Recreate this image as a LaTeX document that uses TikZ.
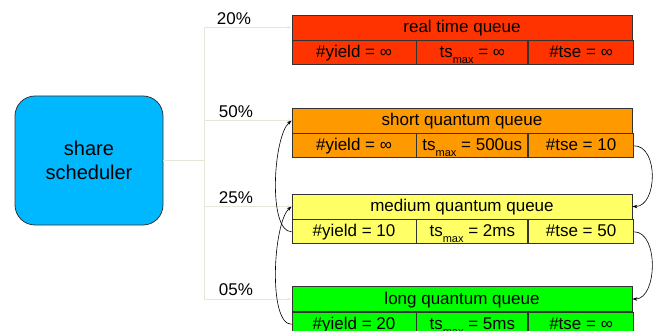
\documentclass[tikz,border=0pt]{standalone}
\usepackage{fontspec}
\setmainfont{Liberation Sans}
\usetikzlibrary{positioning, arrows.meta}
\definecolor{schedblue}{RGB}{0,184,255}
\definecolor{rtred}{RGB}{255,51,0}
\definecolor{sqorange}{RGB}{255,153,0}
\definecolor{mqyellow}{RGB}{255,255,102}
\definecolor{lqgreen}{RGB}{0,255,0}
\definecolor{linkgray}{RGB}{232,230,216}
\newcommand{\tsmax}{ts\raisebox{-6pt}{\fontsize{11}{11}\selectfont max}}

\begin{document}
\begin{tikzpicture}[x=1pt, y=-1pt, font=\fontsize{17}{20}\selectfont,
  qtitle/.style={draw=black!80, line width=0.8pt, minimum width=340pt, minimum height=25pt, inner sep=0pt,
                 text height=12pt, text depth=2pt},
  qcell/.style={draw=black!80, line width=0.8pt, minimum height=24pt, inner sep=0pt,
                text height=12pt, text depth=2pt},
  cellA/.style={qcell, minimum width=124pt},
  cellB/.style={qcell, minimum width=111pt},
  cellC/.style={qcell, minimum width=105pt},
  link/.style={draw=linkgray, line width=0.8pt, -{Latex[length=4pt, width=3pt]}},
  demote/.style={->, >={Stealth[length=5pt, width=3.5pt]}, line width=0.6pt},
  pct/.style={inner sep=0pt}]
   \useasboundingbox (0,0) rectangle (655,331);

   % scheduler
   \node[draw=black!80, line width=0.8pt, fill=schedblue, rounded corners=20pt,
         minimum width=148pt, minimum height=129pt, align=center,
         font=\fontsize{20}{24}\selectfont] (sched) at (89,160.5) {share\\scheduler};
   \coordinate (split) at (204,160.5);

   % queues
   \node[qtitle, fill=rtred] (rt) at (462,27.5) {real time queue};
   \node[cellA, fill=rtred, below right=0pt and 0pt of rt.south west] (rt1) {\#yield = ∞};
   \node[cellB, fill=rtred, right=0pt of rt1] (rt2) {\tsmax{} = ∞};
   \node[cellC, fill=rtred, right=0pt of rt2] (rt3) {\#tse = ∞};

   \node[qtitle, fill=sqorange] (sq) at (462,120.5) {short quantum queue};
   \node[cellA, fill=sqorange, below right=0pt and 0pt of sq.south west] (sq1) {\#yield = ∞};
   \node[cellB, fill=sqorange, right=0pt of sq1] (sq2) {\tsmax{} = 500us};
   \node[cellC, fill=sqorange, right=0pt of sq2] (sq3) {\#tse = 10};

   \node[qtitle, fill=mqyellow] (mq) at (462,206.5) {medium quantum queue};
   \node[cellA, fill=mqyellow, below right=0pt and 0pt of mq.south west] (mq1) {\#yield = 10};
   \node[cellB, fill=mqyellow, right=0pt of mq1] (mq2) {\tsmax{} = 2ms};
   \node[cellC, fill=mqyellow, right=0pt of mq2] (mq3) {\#tse = 50};

   \node[qtitle, fill=lqgreen] (lq) at (462,299) {long quantum queue};
   \node[cellA, fill=lqgreen, below right=0pt and 0pt of lq.south west] (lq1) {\#yield = 20};
   \node[cellB, fill=lqgreen, right=0pt of lq1] (lq2) {\tsmax{} = 5ms};
   \node[cellC, fill=lqgreen, right=0pt of lq2] (lq3) {\#tse = ∞};

   % shares
   \draw[draw=linkgray, line width=0.8pt] (sched.east) -- (split);
   \path[link] (split) |- (rt.west);
   \path[link] (split) |- (sq.west);
   \path[link] (split) |- (mq.west);
   \path[link] (split) |- (lq.west);
   \node[pct] (p20) at (234,19) {20\%};
   \node[pct] (p50) at (236,112) {50\%};
   \node[pct] (p25) at (236,198) {25\%};
   \node[pct] (p05) at (236,290) {05\%};

   % demotion and promotion
   \draw[demote] (sq3.east) to[out=0, in=0, distance=25pt] (mq.east);
   \draw[demote] (mq3.east) to[out=0, in=0, distance=25pt] (lq.east);
   \draw[demote] (mq1.west) to[out=180, in=220, distance=24pt] (sq.west);
   \draw[demote] (lq1.west) to[out=180, in=220, distance=24pt] (mq.west);
\end{tikzpicture}
\end{document}
